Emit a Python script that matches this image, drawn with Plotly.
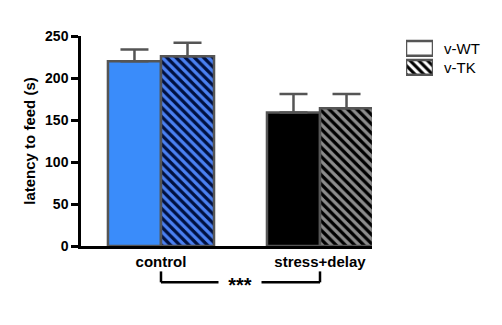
import plotly.graph_objects as go

categories = ["control", "stress+delay"]
wt_values = [220, 159]
wt_errors = [14, 22]
tk_values = [226, 164]
tk_errors = [16, 17]
y_ticks = [0, 50, 100, 150, 200, 250]
legend_names = ["v-WT", "v-TK"]

border = "#555555"
wt_fill = ["#3a8cfa", "#000000"]
tk_fill = ["#4a80f2", "#8c8c8c"]
tk_hatch = ["#001040", "#000000"]

fig = go.Figure()
for i, cat in enumerate(categories):
    fig.add_trace(go.Bar(
        x=[cat], y=[wt_values[i]], name="v-WT", offsetgroup="wt", showlegend=False,
        marker=dict(color=wt_fill[i], line=dict(color=border, width=2.5)),
        error_y=dict(type="data", array=[wt_errors[i]], symmetric=False, arrayminus=[0],
                     color=border, thickness=2.5, width=14),
    ))
for i, cat in enumerate(categories):
    fig.add_trace(go.Bar(
        x=[cat], y=[tk_values[i]], name="v-TK", offsetgroup="tk", showlegend=False,
        marker=dict(color=tk_fill[i], line=dict(color=border, width=2.5),
                    pattern=dict(shape="\\", fgcolor=tk_hatch[i], bgcolor=tk_fill[i],
                                 fgopacity=1, size=6.5 + 0.01 * i, solidity=0.5,
                                 fillmode="replace")),
        error_y=dict(type="data", array=[tk_errors[i]], symmetric=False, arrayminus=[0],
                     color=border, thickness=2.5, width=14),
    ))

# legend glyphs drawn as small bars on their own axes
for j, nm in enumerate(legend_names):
    mk = dict(color="white", line=dict(color=border, width=2.5))
    if j == 1:
        mk["pattern"] = dict(shape="\\", fgcolor="#000000", bgcolor="#ffffff", fgopacity=1,
                             size=6.2, solidity=0.5, fillmode="replace")
    fig.add_trace(go.Bar(
        x=[1], y=[nm], orientation="h", xaxis="x2", yaxis="y2", showlegend=False,
        marker=mk, hoverinfo="skip", width=0.78,
    ))

# significance bracket
ytop, ybot = -0.121, -0.173
for xa, ya, xb, yb in [(0, ytop, 0, ybot), (1, ytop, 1, ybot), (0, ybot, 1, ybot)]:
    fig.add_shape(type="line", xref="x", yref="paper", x0=categories[xa], x1=categories[xb],
                  y0=ya, y1=yb, line=dict(color="black", width=2.5))
fig.add_annotation(x=0.5, xref="x", y=ybot, yref="paper", text="<b>***</b>", showarrow=False,
                   bgcolor="white", font=dict(size=20, color="black"), borderpad=0,
                   xanchor="center", yanchor="middle", yshift=-3, width=42, height=14)

W, H = 502, 325
ml, mr, mt, mb = 81, 0, 36, 78.5
pw = W - ml - mr
fig.update_layout(
    width=W, height=H,
    margin=dict(l=ml, r=mr, t=mt, b=mb),
    paper_bgcolor="white", plot_bgcolor="white",
    barmode="group", bargap=0.333, bargroupgap=0,
    font=dict(family="Liberation Sans, Arial, sans-serif", color="black"),
    showlegend=False,
    xaxis=dict(
        type="category", range=[-0.503, 1.327], domain=[0, 291 / pw],
        categoryorder="array", categoryarray=categories,
        showline=True, linecolor="black", linewidth=2.5,
        ticks="", tickfont=dict(size=15, color="black", weight="bold"),
        showgrid=False, zeroline=False,
    ),
    yaxis=dict(
        range=[0, 250], tickvals=y_ticks,
        showline=True, linecolor="black", linewidth=2.5,
        ticks="outside", ticklen=7, tickwidth=2.5, tickcolor="black",
        tickfont=dict(size=14, color="black", weight="bold"),
        title=dict(text="<b>latency to feed (s)</b>", font=dict(size=15, color="black"), standoff=6),
        showgrid=False, zeroline=False,
    ),
    xaxis2=dict(domain=[(406 - ml) / pw, (433 - ml) / pw], anchor="y2", range=[0, 1],
                visible=False, fixedrange=True),
    yaxis2=dict(domain=[1 - (77 - mt) / 210.5, 1 - (39 - mt) / 210.5], anchor="x2",
                type="category", categoryorder="array", categoryarray=legend_names,
                autorange="reversed", side="right",
                showline=False, ticks="", showgrid=False, zeroline=False,
                tickfont=dict(size=15, color="black"), ticklabelstandoff=10),
)

fig.write_html("out.html")
